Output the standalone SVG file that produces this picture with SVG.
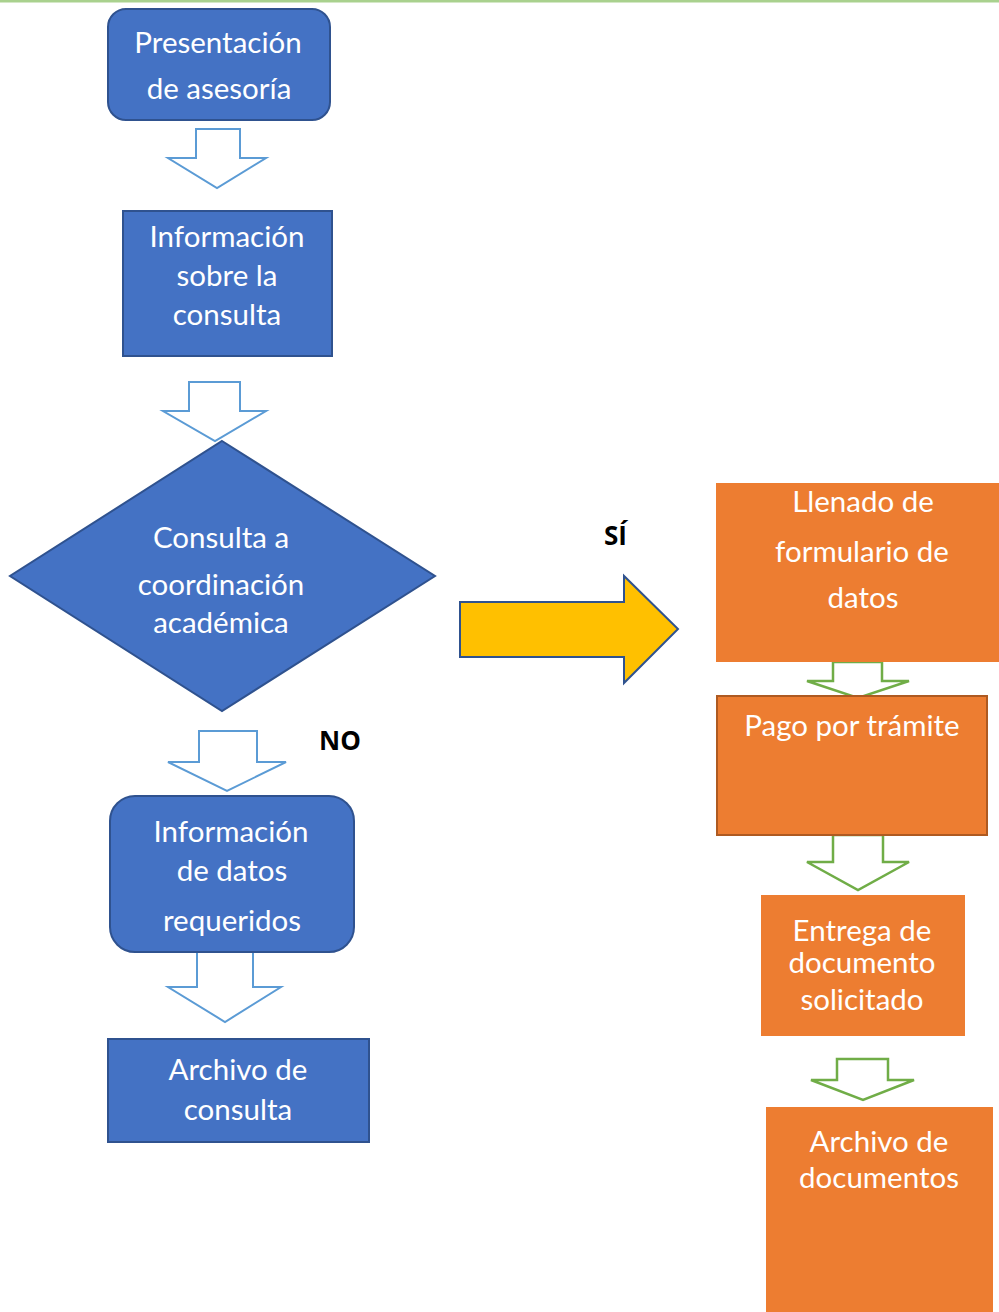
<svg xmlns="http://www.w3.org/2000/svg" width="999" height="1312" viewBox="0 0 999 1312">
  <style>
    .blue { fill: #4472c4; stroke: #2f528f; stroke-width: 2; }
    .orange { fill: #ed7d31; }
    .lbl { font-family: Lato, "Open Sans", sans-serif; font-size: 29.5px; fill: #ffffff; text-anchor: middle; }
    .tag { font-family: "Open Sans", "Liberation Sans", sans-serif; font-size: 26px; font-weight: bold; fill: #000000; }
    .arrB { fill: #ffffff; stroke: #5b9bd5; stroke-width: 2; stroke-linejoin: miter; }
    .arrG { fill: #ffffff; stroke: #70ad47; stroke-width: 2.5; stroke-linejoin: miter; }
  </style>

  <rect x="0" y="0" width="999" height="1312" fill="#ffffff"/>
  <rect x="0" y="0" width="999" height="2.5" fill="#a9d18e"/>

  <!-- connectors: block arrows between steps -->
  <g id="connectors">
    <polygon class="arrB" points="196,129 240,129 240,158 266,158 217,188 168,158 196,158"/>
    <polygon class="arrB" points="189,382 240,382 240,411 266,411 215,441 163,411 189,411"/>
    <polygon class="arrB" points="199,731 257,731 257,762 286,762 227,791 168,762 199,762"/>
    <polygon class="arrB" points="197,952 253,952 253,987 281,987 225,1022 168,987 197,987"/>
    <polygon fill="#ffc000" stroke="#2f528f" stroke-width="2" points="460,602 624,602 624,576 678,629 624,683 624,657 460,657"/>
    <polygon class="arrG" points="833,662 882,662 882,681 909,681 858,698 807,681 833,681"/>
    <polygon class="arrG" points="833,835 883,835 883,862 909,862 858,890 807,862 833,862"/>
    <polygon class="arrG" points="837,1059 888,1059 888,1080 914,1080 863,1100 811,1080 837,1080"/>
  </g>

  <g id="presentacion">
    <rect class="blue" x="108" y="9" width="222" height="111" rx="18"/>
    <text class="lbl" x="218" y="53">Presentación</text>
    <text class="lbl" x="219" y="99">de asesoría</text>
  </g>

  <g id="informacion-consulta">
    <rect class="blue" x="123" y="211" width="209" height="145"/>
    <text class="lbl" x="227" y="247">Información</text>
    <text class="lbl" x="227" y="286">sobre la</text>
    <text class="lbl" x="227" y="325">consulta</text>
  </g>

  <g id="consulta-coordinacion">
    <polygon class="blue" points="222,441 435,576 222,711 10,576"/>
    <text class="lbl" x="221" y="548">Consulta a</text>
    <text class="lbl" x="221" y="595">coordinación</text>
    <text class="lbl" x="221" y="633">académica</text>
  </g>

  <g id="label-no">
    <text class="tag" x="319" y="750">NO</text>
  </g>

  <g id="label-si">
    <text class="tag" x="604" y="545">SÍ</text>
  </g>

  <g id="informacion-datos">
    <rect class="blue" x="110" y="796" width="244" height="156" rx="25"/>
    <text class="lbl" x="231" y="842">Información</text>
    <text class="lbl" x="232" y="881">de datos</text>
    <text class="lbl" x="232" y="931">requeridos</text>
  </g>

  <g id="archivo-consulta">
    <rect class="blue" x="108" y="1039" width="261" height="103"/>
    <text class="lbl" x="238" y="1080">Archivo de</text>
    <text class="lbl" x="238" y="1120">consulta</text>
  </g>

  <g id="llenado-formulario">
    <rect class="orange" x="716" y="483" width="283" height="179"/>
    <text class="lbl" x="863" y="512">Llenado de</text>
    <text class="lbl" x="862" y="562">formulario de</text>
    <text class="lbl" x="863" y="608">datos</text>
  </g>

  <g id="pago-tramite">
    <rect class="orange" x="717" y="696" width="270" height="139" stroke="#ae5a21" stroke-width="2"/>
    <text class="lbl" x="852" y="736">Pago por trámite</text>
  </g>

  <g id="entrega-documento">
    <rect class="orange" x="761" y="895" width="204" height="141"/>
    <text class="lbl" x="862" y="941">Entrega de</text>
    <text class="lbl" x="862" y="973">documento</text>
    <text class="lbl" x="862" y="1010">solicitado</text>
  </g>

  <g id="archivo-documentos">
    <rect class="orange" x="766" y="1107" width="227" height="205"/>
    <text class="lbl" x="879" y="1152">Archivo de</text>
    <text class="lbl" x="879" y="1188">documentos</text>
  </g>
</svg>
